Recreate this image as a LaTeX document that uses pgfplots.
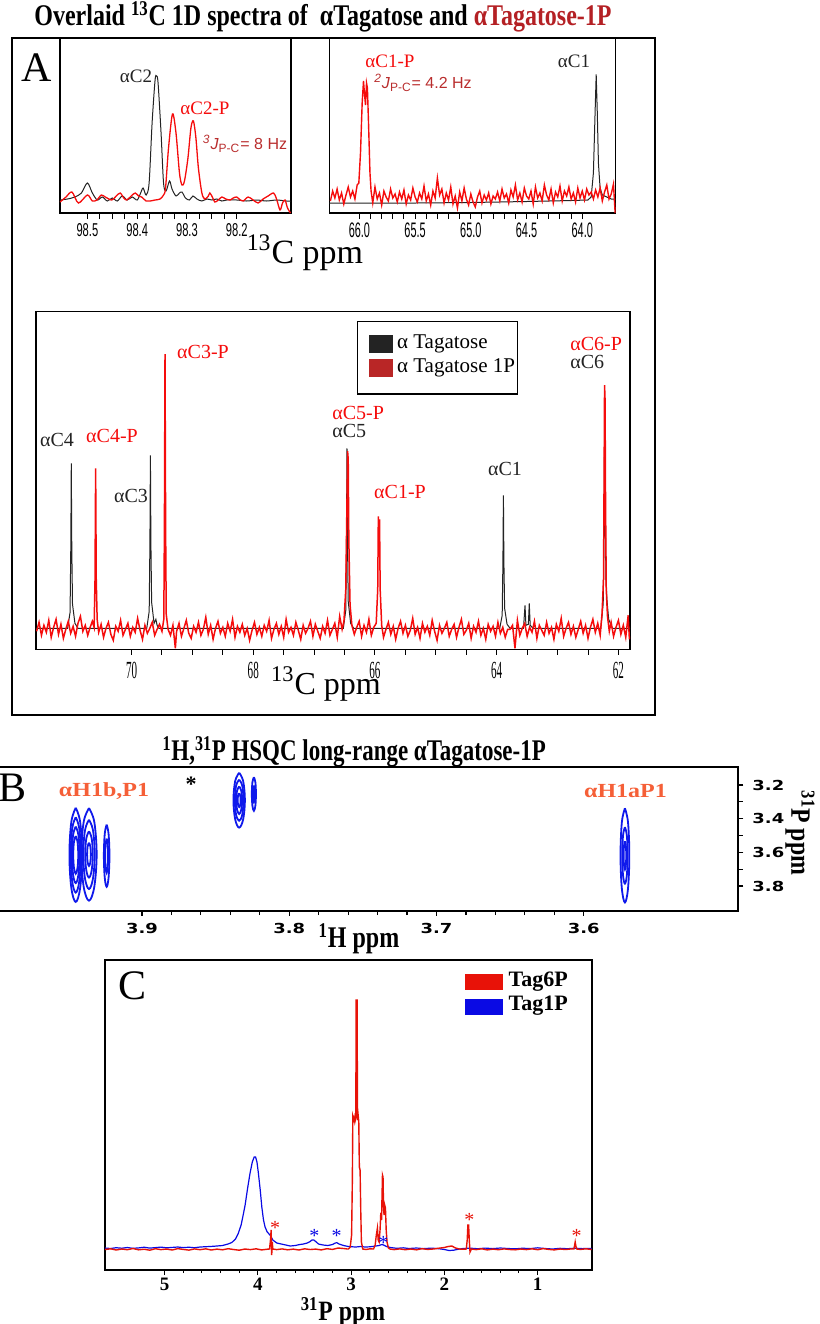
\documentclass[border=0pt]{standalone}
\usepackage{pgfplots}
\pgfplotsset{compat=1.18}
\usepackage{fontspec}
\setmainfont{Liberation Serif}
\newfontfamily\lsans{Liberation Sans}
\newfontfamily\djv{DejaVu Sans}
\definecolor{specred}{RGB}{245,12,12}
\definecolor{specblk}{RGB}{35,35,35}
\definecolor{jred}{RGB}{185,45,45}
\definecolor{tred}{RGB}{180,32,36}
\definecolor{legred}{RGB}{185,38,38}
\definecolor{hsqcorange}{RGB}{245,95,55}
\definecolor{hsqcblue}{RGB}{15,25,235}
\definecolor{pred}{RGB}{232,18,8}
\definecolor{pblue}{RGB}{10,10,228}

\pgfplotsset{
  nmr/.style={scale only axis, anchor=south west, x dir=reverse, ytick=\empty,
    xtick pos=bottom, tick align=outside, axis line style={line width=0.7pt},
    major tick style={black, line width=0.5pt}, minor tick style={black, line width=0.5pt},
    /pgf/number format/assume math mode=true},
  cont/.style={hsqcblue, line width=0.9pt, smooth, tension=0.6},
}

\begin{document}
\begin{tikzpicture}
\useasboundingbox (0,0) rectangle (410pt,-662pt);

% ---------- titles and panel letters
\node[inner sep=0, xscale=0.8, font=\fontsize{15}{18}\selectfont\bfseries] at (161.5pt,-8.5pt)
  {Overlaid \textsuperscript{13}C 1D spectra of\ \ αTagatose and \textcolor{tred}{αTagatose-1P}};
\draw[line width=0.75pt] (6pt,-19pt) rectangle (327.5pt,-357.5pt);
\node[inner sep=0, font=\fontsize{21}{24}\selectfont] at (18.5pt,-34pt) {A};

% ---------- inset 1: alpha C2
\begin{axis}[nmr, at={(30pt,-106.5pt)}, width=115.5pt, height=87.5pt,
  xmin=98.091, xmax=98.555, ymin=0, ymax=175,
  xtick={98.2,98.3,98.4,98.5}, xticklabels={98.2,98.3,98.4,98.5}, minor x tick num=3,
  major tick length=3pt, minor tick length=3pt,
  xticklabel style={font=\lsans\fontsize{9.3}{11}\selectfont, xscale=0.6, yshift=1.5pt}]
\addplot[specblk, line width=0.5pt, smooth, tension=0.5] coordinates {
(98.555,13)(98.54,14)(98.525,16)(98.512,20)(98.5,30)(98.49,20)(98.48,13)(98.47,16)(98.46,12)
(98.45,15)(98.44,12)(98.43,17)(98.42,13)(98.41,16)(98.40,13)(98.393,20)(98.388,25)(98.382,18)
(98.376,30)(98.37,90)(98.364,133)(98.361,137)(98.358,130)(98.352,80)(98.347,30)(98.342,22)
(98.335,32)(98.33,24)(98.322,17)(98.315,20)(98.31,21)(98.303,15)(98.295,13)(98.288,17)(98.28,14)
(98.27,12)(98.26,14)(98.25,13)(98.24,14)(98.23,12)(98.22,13)(98.20,13)(98.18,12)(98.16,13)
(98.14,12)(98.12,13)(98.10,12)(98.092,12)};
\addplot[specred, line width=0.65pt, smooth, tension=0.5] coordinates {
(98.555,11)(98.543,16)(98.531,21)(98.518,10)(98.5,18)(98.490,12)(98.481,13)(98.472,18)(98.464,16)
(98.451,13)(98.442,17)(98.434,20)(98.427,15)(98.421,13)(98.412,17)(98.404,20)(98.397,17)(98.391,16)
(98.382,12)(98.374,12)(98.364,13)(98.354,14)(98.347,18)(98.343,25)(98.337,65)(98.329,99)(98.322,80)
(98.315,40)(98.310,28)(98.305,32)(98.298,55)(98.292,85)(98.287,92)(98.282,75)(98.277,45)(98.270,20)
(98.264,14)(98.257,17)(98.254,20)(98.249,16)(98.244,11)(98.237,13)(98.230,16)(98.222,14)(98.213,13)
(98.207,15)(98.200,16)(98.193,13)(98.187,12)(98.177,16)(98.167,13)(98.157,10)(98.147,14)(98.137,17)
(98.126,20)(98.120,14)(98.113,3)(98.108,10)(98.103,13)(98.098,5)(98.092,0)};
\end{axis}

% ---------- inset 2: alpha C1
\begin{axis}[nmr, at={(164.65pt,-106.5pt)}, width=143.2pt, height=87.5pt,
  xmin=63.70, xmax=66.27, ymin=0, ymax=175,
  xtick={64,64.5,65,65.5,66}, xticklabels={64.0,64.5,65.0,65.5,66.0}, minor x tick num=4,
  major tick length=3pt, minor tick length=3pt,
  xticklabel style={font=\lsans\fontsize{10.5}{12}\selectfont, xscale=0.52, yshift=1.5pt}]
\addplot[specblk, line width=0.5pt] coordinates {
(66.27,10)(65.5,10)(65.0,10.5)(64.5,11.5)(64.1,12.5)(63.95,13)(63.92,16)(63.9,40)(63.885,100)
(63.875,138.7)(63.865,100)(63.855,50)(63.84,25)(63.82,18)(63.78,16)(63.74,14)(63.70,14)};
\addplot[specred, line width=0.7pt] coordinates {
(66.26,12)(66.24,22)(66.22,15)(66.20,24)(66.18,13)(66.16,20)(66.14,9)(66.12,18)(66.10,26)(66.08,16)
(66.06,22)(66.04,14)(66.02,28)(66.005,30)(65.99,60)(65.975,110)(65.963,132)(65.955,120)(65.945,108)
(65.936,130)(65.928,125)(65.918,90)(65.905,40)(65.895,22)(65.88,10)(65.86,26)(65.84,14)(65.82,20)
(65.80,8)(65.78,22)(65.76,16)(65.74,12)(65.72,24)(65.70,15)(65.68,19)(65.66,11)(65.64,21)(65.62,14)
(65.60,23)(65.58,9)(65.56,18)(65.54,13)(65.52,25)(65.50,16)(65.48,11)(65.46,20)(65.44,14)(65.42,27)
(65.40,12)(65.38,19)(65.36,8)(65.34,22)(65.32,15)(65.30,35)(65.28,18)(65.26,24)(65.24,10)(65.22,20)
(65.20,13)(65.18,26)(65.16,9)(65.14,17)(65.12,5)(65.10,21)(65.08,12)(65.06,25)(65.04,14)(65.02,8)
(65.00,19)(64.98,11)(64.96,6)(64.94,16)(64.92,22)(64.90,10)(64.88,18)(64.86,13)(64.84,20)(64.82,9)
(64.80,17)(64.78,14)(64.76,21)(64.74,12)(64.72,24)(64.70,15)(64.68,19)(64.66,10)(64.64,23)(64.62,16)
(64.60,28)(64.58,13)(64.56,20)(64.54,11)(64.52,25)(64.50,17)(64.48,14)(64.46,22)(64.44,9)(64.42,26)
(64.40,15)(64.38,20)(64.36,12)(64.34,28)(64.32,18)(64.30,13)(64.28,24)(64.26,10)(64.24,21)(64.22,16)
(64.20,27)(64.18,12)(64.16,22)(64.14,17)(64.12,26)(64.10,14)(64.08,20)(64.06,11)(64.04,25)(64.02,15)
(64.00,22)(63.98,13)(63.96,24)(63.94,18)(63.92,21)(63.90,14)(63.88,23)(63.86,16)(63.84,25)(63.82,12)
(63.80,21)(63.78,28)(63.76,14)(63.74,19)(63.72,29)(63.705,0)};
\end{axis}

% inset labels
\node[inner sep=0, font=\fontsize{9.5}{11}\selectfont, text=specblk] at (68pt,-38pt) {αC2};
\node[inner sep=0, font=\fontsize{9.5}{11}\selectfont, text=specred] at (102.5pt,-54pt) {αC2-P};
\node[inner sep=0, font=\lsans\fontsize{8}{10}\selectfont, text=jred] at (122.5pt,-72pt)
  {\textsuperscript{\itshape 3}\textit{J}\textsubscript{P-C}= 8 Hz};
\node[inner sep=0, font=\fontsize{9.5}{11}\selectfont, text=specred] at (195pt,-30.5pt) {αC1-P};
\node[inner sep=0, font=\lsans\fontsize{8}{10}\selectfont, text=jred] at (211.5pt,-41.5pt)
  {\textsuperscript{\itshape 2}\textit{J}\textsubscript{P-C}= 4.2 Hz};
\node[inner sep=0, font=\fontsize{9.5}{11}\selectfont, text=specblk] at (287pt,-30.5pt) {αC1};
\node[inner sep=0, font=\fontsize{17}{19}\selectfont] at (152.5pt,-126.5pt) {\textsuperscript{13}C ppm};

% ---------- main 13C spectrum
\begin{axis}[nmr, at={(18pt,-324.65pt)}, width=297pt, height=168.8pt,
  xmin=61.81, xmax=71.57, ymin=0, ymax=337.6,
  xtick={62,64,66,68,70}, xticklabels={62,64,66,68,70}, minor x tick num=3,
  major tick length=2.8pt, minor tick length=2.8pt,
  xticklabel style={font=\fontsize{12.3}{14}\selectfont, xscale=0.45}]
\addplot[specblk, line width=0.5pt] coordinates {
(71.57,21)(71.05,21)(71.01,37)(70.998,103)(70.99,186)(70.982,103)(70.97,45)(70.93,26)(70.88,21)
(69.75,21)(69.71,38)(69.698,107)(69.69,194)(69.682,107)(69.67,47)(69.63,26)(69.60,30)(69.58,24)(69.55,21)
(66.52,21)(66.48,39)(66.468,111)(66.46,201)(66.452,111)(66.44,48)(66.40,26)(66.35,21)
(63.95,21)(63.91,34)(63.898,88)(63.89,154)(63.882,88)(63.87,41)(63.83,25)(63.78,21)
(63.56,21)(63.535,44)(63.52,24)(63.48,25)(63.465,46)(63.45,24)(63.40,21)
(62.29,21)(62.25,46)(62.233,135)(62.225,250)(62.217,135)(62.205,70)(62.19,50)(62.16,30)(62.10,21)(61.81,21)};
\addplot[specred, line width=0.75pt] coordinates {
(71.56,18)(71.52,27)(71.48,14)(71.44,24)(71.40,17)(71.36,29)(71.32,12)(71.28,22)(71.24,30)(71.20,15)
(71.16,25)(71.12,11)(71.08,20)(71.04,28)(71.00,16)(70.96,23)(70.92,13)(70.88,26)(70.84,33)(70.80,18)
(70.76,24)(70.72,14)(70.68,22)(70.645,28)(70.615,22)(70.60,70)(70.59,181)(70.58,70)(70.565,30)(70.54,17)
(70.50,25)(70.46,12)(70.42,21)(70.38,27)(70.34,15)(70.30,9)(70.26,23)(70.22,18)(70.18,29)(70.14,14)
(70.10,20)(70.06,26)(70.02,13)(69.98,22)(69.94,17)(69.90,31)(69.86,19)(69.82,10)(69.78,24)(69.74,16)
(69.70,21)(69.66,27)(69.62,14)(69.58,20)(69.54,25)(69.50,18)(69.47,30)(69.46,120)(69.45,295)(69.44,120)
(69.43,35)(69.40,20)(69.36,14)(69.32,24)(69.28,1)(69.26,18)(69.22,26)(69.18,13)(69.14,21)(69.10,29)
(69.06,16)(69.02,11)(68.98,23)(68.94,17)(68.90,27)(68.86,14)(68.82,20)(68.78,32)(68.74,15)(68.70,24)
(68.66,10)(68.62,21)(68.58,28)(68.54,16)(68.50,22)(68.46,13)(68.42,26)(68.38,18)(68.34,30)(68.30,12)
(68.26,23)(68.22,17)(68.18,25)(68.14,14)(68.10,21)(68.06,9)(68.02,19)(67.98,27)(67.94,15)(67.90,22)
(67.86,13)(67.82,24)(67.78,18)(67.74,29)(67.70,11)(67.66,20)(67.62,26)(67.58,15)(67.54,23)(67.50,12)
(67.46,30)(67.42,17)(67.38,22)(67.34,14)(67.30,27)(67.26,19)(67.22,10)(67.18,24)(67.14,16)(67.10,21)
(67.06,28)(67.02,13)(66.98,25)(66.94,18)(66.90,11)(66.86,23)(66.82,16)(66.78,29)(66.74,14)(66.70,20)
(66.66,26)(66.62,12)(66.58,33)(66.54,20)(66.51,28)(66.48,60)(66.46,150)(66.45,198)(66.44,190)(66.43,110)
(66.41,45)(66.38,24)(66.34,15)(66.30,22)(66.26,28)(66.22,13)(66.18,24)(66.14,17)(66.10,30)(66.06,14)
(66.02,22)(65.98,26)(65.955,60)(65.945,133)(65.935,110)(65.925,130)(65.915,60)(65.89,24)(65.86,12)(65.82,20)
(65.78,27)(65.74,15)(65.70,23)(65.66,10)(65.62,21)(65.58,28)(65.54,16)(65.50,24)(65.46,13)(65.42,19)
(65.38,31)(65.34,15)(65.30,22)(65.26,11)(65.22,26)(65.18,17)(65.14,23)(65.10,14)(65.06,29)(65.02,18)
(64.98,9)(64.94,24)(64.90,16)(64.86,21)(64.82,27)(64.78,13)(64.74,20)(64.70,25)(64.66,12)(64.62,22)
(64.58,30)(64.54,15)(64.50,19)(64.46,26)(64.42,11)(64.38,23)(64.34,17)(64.30,28)(64.26,14)(64.22,21)
(64.18,10)(64.14,25)(64.10,18)(64.06,23)(64.02,13)(63.98,27)(63.94,16)(63.90,22)(63.86,12)(63.82,20)
(63.78,20)(63.74,24)(63.70,1)(63.66,29)(63.62,14)(63.58,21)(63.54,26)(63.50,13)(63.46,22)(63.42,17)
(63.38,28)(63.34,11)(63.30,24)(63.26,19)(63.22,14)(63.18,27)(63.14,16)(63.10,22)(63.06,10)(63.02,25)
(62.98,18)(62.94,31)(62.90,13)(62.86,21)(62.82,27)(62.78,15)(62.74,23)(62.70,12)(62.66,20)(62.62,28)
(62.58,16)(62.54,24)(62.50,11)(62.46,22)(62.42,30)(62.38,17)(62.34,26)(62.30,14)(62.27,35)(62.245,70)
(62.235,180)(62.228,264)(62.22,250)(62.212,150)(62.20,60)(62.18,33)(62.15,18)(62.12,27)(62.08,13)(62.04,22)
(62.00,29)(61.96,15)(61.92,24)(61.88,12)(61.84,34)(61.82,10)};
\end{axis}

% main labels
\begin{scope}[every node/.style={inner sep=0, font=\fontsize{10}{12}\selectfont}]
\node[text=specblk] at (28.5pt,-220pt) {αC4};
\node[text=specred] at (56pt,-218pt) {αC4-P};
\node[text=specblk] at (65.5pt,-248pt) {αC3};
\node[text=specred] at (101.5pt,-176pt) {αC3-P};
\node[text=specred, anchor=west] at (166pt,-206.5pt) {αC5-P};
\node[text=specblk, anchor=west] at (166pt,-215.5pt) {αC5};
\node[text=specred] at (200pt,-246pt) {αC1-P};
\node[text=specblk] at (252.5pt,-234.5pt) {αC1};
\node[text=specred, anchor=west] at (285pt,-172pt) {αC6-P};
\node[text=specblk, anchor=west] at (285pt,-181pt) {αC6};
\end{scope}
% legend A
\draw[line width=0.65pt, fill=white] (178.85pt,-160.85pt) rectangle (258.65pt,-197pt);
\fill[specblk] (184.5pt,-167.5pt) rectangle (196.65pt,-176.65pt);
\fill[legred] (184.5pt,-179.65pt) rectangle (196.65pt,-188.65pt);
\node[inner sep=0, anchor=west, font=\fontsize{10.5}{12}\selectfont] at (198.35pt,-172pt) {α Tagatose};
\node[inner sep=0, anchor=west, font=\fontsize{10.5}{12}\selectfont] at (198.35pt,-184pt) {α Tagatose 1P};
\node[inner sep=0, font=\fontsize{16}{18}\selectfont] at (163pt,-342pt) {\textsuperscript{13}C ppm};

% ---------- panel B: HSQC
\node[inner sep=0, xscale=0.765, font=\fontsize{15}{18}\selectfont\bfseries] at (177.1pt,-376pt)
  {\textsuperscript{1}H,\textsuperscript{31}P HSQC long-range αTagatose-1P};
\begin{axis}[scale only axis, anchor=south west, at={(-24.7pt,-455.35pt)}, width=393.85pt, height=72pt,
  x dir=reverse, y dir=reverse, xmin=3.495, xmax=4.03, ymin=3.091, ymax=3.947,
  xtick={3.6,3.7,3.8,3.9}, xticklabels={3.6,3.7,3.8,3.9}, minor x tick num=4,
  ytick={3.2,3.4,3.6,3.8}, yticklabels={3.2,3.4,3.6,3.8}, minor y tick num=1,
  xtick pos=bottom, ytick pos=right, yticklabel pos=right, tick align=outside,
  major tick length=2.5pt, minor tick length=2.2pt,
  axis line style={line width=0.9pt},
  major tick style={black, line width=0.6pt}, minor tick style={black, line width=0.6pt},
  xticklabel style={font=\djv\bfseries\fontsize{6.9}{8}\selectfont, xscale=1.3},
  yticklabel style={font=\djv\bfseries\fontsize{6.9}{8}\selectfont, xscale=1.3}]
\addplot[cont] coordinates {(3.945,3.335)(3.948,3.419)(3.9493,3.615)(3.948,3.811)(3.945,3.895)(3.942,3.811)(3.9407,3.615)(3.942,3.419)(3.945,3.335)};
\addplot[cont] coordinates {(3.945,3.391)(3.9474,3.458)(3.9484,3.615)(3.9474,3.772)(3.945,3.839)(3.9426,3.772)(3.9416,3.615)(3.9426,3.458)(3.945,3.391)};
\addplot[cont] coordinates {(3.945,3.447)(3.9468,3.497)(3.9476,3.615)(3.9468,3.733)(3.945,3.783)(3.9432,3.733)(3.9424,3.615)(3.9432,3.497)(3.945,3.447)};
\addplot[cont] coordinates {(3.945,3.503)(3.9462,3.537)(3.9467,3.615)(3.9462,3.693)(3.945,3.727)(3.9438,3.693)(3.9433,3.615)(3.9438,3.537)(3.945,3.503)};
\addplot[cont] coordinates {(3.936,3.337)(3.9396,3.419)(3.9412,3.612)(3.9396,3.805)(3.936,3.887)(3.9324,3.805)(3.9308,3.612)(3.9324,3.419)(3.936,3.337)};
\addplot[cont] coordinates {(3.936,3.406)(3.9387,3.468)(3.9399,3.612)(3.9387,3.756)(3.936,3.818)(3.9333,3.756)(3.9321,3.612)(3.9333,3.468)(3.936,3.406)};
\addplot[cont] coordinates {(3.936,3.475)(3.9378,3.516)(3.9386,3.612)(3.9378,3.708)(3.936,3.750)(3.9342,3.708)(3.9334,3.612)(3.9342,3.516)(3.936,3.475)};
\addplot[cont] coordinates {(3.936,3.543)(3.9369,3.564)(3.9373,3.612)(3.9369,3.660)(3.936,3.681)(3.9351,3.660)(3.9347,3.612)(3.9351,3.564)(3.936,3.543)};
\addplot[cont] coordinates {(3.924,3.435)(3.9253,3.49)(3.9259,3.62)(3.9253,3.75)(3.924,3.805)(3.9227,3.75)(3.9221,3.62)(3.9227,3.49)(3.924,3.435)};
\addplot[cont] coordinates {(3.924,3.518)(3.9247,3.549)(3.925,3.62)(3.9247,3.691)(3.924,3.722)(3.9233,3.691)(3.923,3.62)(3.9233,3.549)(3.924,3.518)};
\addplot[cont] coordinates {(3.834,3.127)(3.8367,3.176)(3.8379,3.29)(3.8367,3.404)(3.834,3.453)(3.8313,3.404)(3.8301,3.29)(3.8313,3.176)(3.834,3.127)};
\addplot[cont] coordinates {(3.834,3.168)(3.8361,3.204)(3.8369,3.29)(3.8361,3.376)(3.834,3.412)(3.8319,3.376)(3.8311,3.29)(3.8319,3.204)(3.834,3.168)};
\addplot[cont] coordinates {(3.834,3.208)(3.8354,3.233)(3.836,3.29)(3.8354,3.347)(3.834,3.372)(3.8326,3.347)(3.832,3.29)(3.8326,3.233)(3.834,3.208)};
\addplot[cont] coordinates {(3.834,3.249)(3.8347,3.261)(3.835,3.29)(3.8347,3.319)(3.834,3.331)(3.8333,3.319)(3.833,3.29)(3.8333,3.261)(3.834,3.249)};
\addplot[cont] coordinates {(3.824,3.153)(3.825,3.183)(3.8254,3.253)(3.825,3.323)(3.824,3.353)(3.823,3.323)(3.8226,3.253)(3.823,3.183)(3.824,3.153)};
\addplot[cont] coordinates {(3.824,3.203)(3.8245,3.218)(3.8247,3.253)(3.8245,3.288)(3.824,3.303)(3.8235,3.288)(3.8233,3.253)(3.8235,3.218)(3.824,3.203)};
\addplot[cont] coordinates {(3.572,3.338)(3.5741,3.422)(3.575,3.618)(3.5741,3.814)(3.572,3.898)(3.5699,3.814)(3.569,3.618)(3.5699,3.422)(3.572,3.338)};
\addplot[cont] coordinates {(3.572,3.45)(3.5733,3.5)(3.5738,3.618)(3.5733,3.736)(3.572,3.786)(3.5707,3.736)(3.5702,3.618)(3.5707,3.5)(3.572,3.45)};
\addplot[cont] coordinates {(3.572,3.534)(3.5726,3.559)(3.5729,3.618)(3.5726,3.677)(3.572,3.702)(3.5714,3.677)(3.5711,3.618)(3.5714,3.559)(3.572,3.534)};
\end{axis}
\node[inner sep=0, font=\fontsize{21}{24}\selectfont] at (6.5pt,-394pt) {B};
\node[inner sep=0, xscale=1.2, font=\fontsize{10}{12}\selectfont\bfseries, text=hsqcorange] at (52pt,-395.5pt) {αH1b,P1};
\node[inner sep=0, xscale=1.2, font=\fontsize{10}{12}\selectfont\bfseries, text=hsqcorange] at (312.75pt,-395.5pt) {αH1aP1};
\node[inner sep=0, font=\fontsize{11}{12}\selectfont\bfseries] at (95.5pt,-392pt) {*};
\node[inner sep=0, xscale=0.8, font=\fontsize{15}{18}\selectfont\bfseries] at (179.5pt,-469.5pt) {\textsuperscript{1}H ppm};
\node[inner sep=0, rotate=-90, xscale=0.85, font=\fontsize{14}{16}\selectfont\bfseries] at (400pt,-416.5pt) {\textsuperscript{31}P ppm};

% ---------- panel C: 31P spectra
\begin{axis}[nmr, at={(52.5pt,-635pt)}, width=243.35pt, height=155pt,
  xmin=0.42, xmax=5.64, ymin=0, ymax=310,
  xtick={1,2,3,4,5}, xticklabels={1,2,3,4,5}, minor x tick num=4,
  major tick length=2.5pt, minor tick length=1.6pt, axis line style={line width=0.9pt},
  xticklabel style={font=\fontsize{9.5}{11}\selectfont\bfseries, yshift=2pt}]
\addplot[pblue, line width=0.6pt] coordinates {
(5.64,22)(5.58,21.5)(5.52,22.3)(5.46,21.8)(5.40,22.5)(5.34,21.7)(5.28,22.1)(5.22,22.8)(5.16,21.9)(5.10,22.4)
(5.04,22.9)(4.98,22.2)(4.92,22.6)(4.86,23)(4.80,22.4)(4.74,22.8)(4.68,22.3)(4.62,23)(4.56,23.3)(4.50,23.6)
(4.44,24)(4.38,24.5)(4.32,26)(4.28,27.5)(4.24,31)(4.21,36.7)(4.18,45)(4.158,55)(4.137,65)(4.11,82)
(4.084,97)(4.06,108)(4.04,113)(4.025,113)(4.01,108)(3.995,97)(3.975,80)(3.958,63)(3.94,50)(3.923,43)
(3.90,38)(3.87,35)(3.84,30)(3.797,27)(3.75,26)(3.70,25)(3.654,24)(3.60,24.5)(3.55,25.5)(3.512,26)
(3.47,27)(3.44,28.5)(3.42,30)(3.40,30)(3.38,28.5)(3.35,26)(3.30,25)(3.25,24.5)(3.20,25.5)(3.17,27)
(3.153,27.3)(3.13,26)(3.08,24.5)(3.03,23.5)(3.00,23.3)(2.95,23)(2.90,23.5)(2.85,23)(2.80,23.2)(2.75,23.8)
(2.70,24.5)(2.67,25.5)(2.653,25)(2.62,23.5)(2.58,22.5)(2.51,21.7)(2.44,22.2)(2.38,21.5)(2.30,22)(2.22,21.4)
(2.14,21.9)(2.06,21.3)(2.00,20.5)(1.95,19.5)(1.90,19.8)(1.85,20.8)(1.80,21.5)(1.72,21.8)(1.64,21.3)(1.56,21.9)
(1.48,21.4)(1.40,22)(1.32,21.5)(1.24,21.2)(1.16,21.8)(1.08,21.4)(1.00,22.2)(0.92,21.5)(0.84,21)(0.76,21.7)
(0.68,21.3)(0.60,21.8)(0.52,21.4)(0.42,21.6)};
\addplot[pred, line width=0.7pt] coordinates {
(5.64,20.5)(5.58,21.2)(5.52,20)(5.46,21)(5.40,20.3)(5.34,21.5)(5.28,20.2)(5.22,20.8)(5.16,19.8)(5.10,21.3)
(5.04,20.4)(4.98,21)(4.92,20)(4.86,21.4)(4.80,20.6)(4.74,19.9)(4.68,21.1)(4.62,20.3)(4.56,21.2)(4.50,20)
(4.44,20.9)(4.38,20.2)(4.32,21.3)(4.26,20.5)(4.20,19.8)(4.14,21)(4.08,20.4)(4.02,21.2)(3.96,20.1)(3.90,20.8)
(3.875,21)(3.865,30)(3.858,40)(3.852,15)(3.846,28)(3.84,21)(3.80,20.4)(3.74,21.1)(3.68,20.2)(3.62,20.9)
(3.56,20)(3.50,21.2)(3.44,20.5)(3.38,20.9)(3.32,20.1)(3.26,21.3)(3.20,20.6)(3.14,22)(3.08,21.5)(3.04,21)
(3.03,21)(3.01,23)(2.995,35)(2.987,90)(2.982,153)(2.975,150)(2.968,153)(2.960,148)(2.950,152)(2.946,270)
(2.936,270)(2.932,150)(2.925,155)(2.918,148)(2.912,103)(2.904,100)(2.897,60)(2.890,28)(2.875,21)(2.84,20.5)
(2.80,21.2)(2.76,21)(2.742,25)(2.73,35)(2.718,42)(2.71,30)(2.70,28)(2.69,40)(2.682,57)(2.674,50)
(2.664,95)(2.658,93)(2.652,60)(2.646,55)(2.640,65)(2.632,62)(2.624,40)(2.615,28)(2.600,22)(2.585,21)
(2.54,20.4)(2.48,21.1)(2.42,20.3)(2.36,21)(2.30,20.2)(2.24,21.3)(2.18,20.6)(2.12,21)(2.06,21.8)(2.00,22.5)
(1.96,23.5)(1.92,24)(1.88,22)(1.84,21)(1.80,20.8)(1.765,21)(1.755,30)(1.748,45)(1.740,45)(1.733,30)
(1.725,18)(1.71,21)(1.66,20.4)(1.60,21.2)(1.54,20.1)(1.48,20.9)(1.42,20.3)(1.36,21.1)(1.30,20.5)(1.24,20.2)
(1.18,21)(1.12,20.4)(1.06,21.2)(1.00,20.3)(0.94,21.4)(0.88,20.6)(0.82,20.1)(0.76,21)(0.70,20.5)(0.64,21.1)
(0.61,21)(0.603,25)(0.597,28)(0.590,24)(0.58,21)(0.54,20.6)(0.48,21.2)(0.42,20.5)};
\end{axis}
\node[inner sep=0, font=\fontsize{21}{24}\selectfont] at (66.25pt,-493pt) {C};
\fill[pred] (232.5pt,-487.15pt) rectangle (251.35pt,-495pt);
\fill[pblue] (232.5pt,-499.65pt) rectangle (251.35pt,-507.5pt);
\node[inner sep=0, anchor=west, font=\fontsize{11}{12}\selectfont\bfseries] at (254.15pt,-491pt) {Tag6P};
\node[inner sep=0, anchor=west, font=\fontsize{11}{12}\selectfont\bfseries] at (254.15pt,-503pt) {Tag1P};
\begin{scope}[every node/.style={inner sep=0, font=\fontsize{10}{10}\selectfont}]
\node[text=pred] at (137.5pt,-614pt) {*};
\node[text=pred] at (234.65pt,-610pt) {*};
\node[text=pred] at (288.35pt,-618pt) {*};
\node[text=pblue] at (157.15pt,-618pt) {*};
\node[text=pblue] at (168.35pt,-618pt) {*};
\node[text=pblue] at (191.65pt,-621.5pt) {*};
\end{scope}
\node[inner sep=0, xscale=0.85, font=\fontsize{14}{16}\selectfont\bfseries] at (171.5pt,-656pt) {\textsuperscript{31}P ppm};
\end{tikzpicture}
\end{document}
